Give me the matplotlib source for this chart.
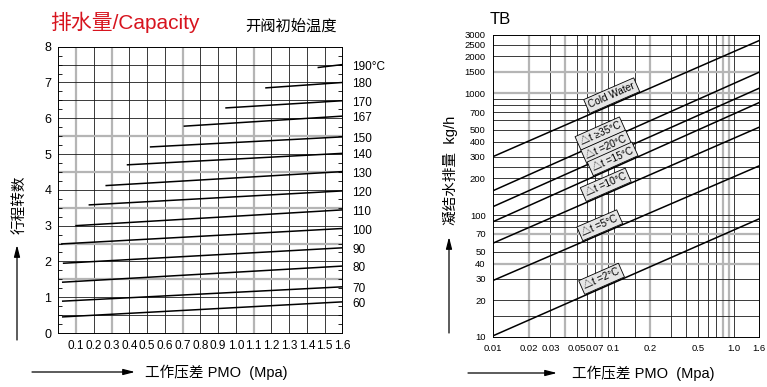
import math
import matplotlib
matplotlib.use('Agg')
import matplotlib.pyplot as plt
import numpy as np

plt.rcParams['font.family'] = ['Liberation Sans', 'Noto Sans CJK SC', 'DejaVu Sans']

W, H = 767, 387

# ---- left chart: stroke turns vs working pressure, per opening temperature ----
pressure_ticks = [0.1, 0.2, 0.3, 0.4, 0.5, 0.6, 0.7, 0.8, 0.9, 1.0,
                  1.1, 1.2, 1.3, 1.4, 1.5, 1.6]
pressure_labels = ['0.1', '0.2', '0.3', '0.4', '0.5', '0.6', '0.7', '0.8', '0.9', '1.0',
                   '1.1', '1.2', '1.3', '1.4', '1.5', '1.6']
turn_ticks = [0, 1, 2, 3, 4, 5, 6, 7, 8]
temp_labels = ['60', '70', '80', '90', '100', '110', '120', '130', '140', '150',
               '167', '170', '180', '190°C']
start_pressure = [0.025, 0.025, 0.025, 0.03, 0.02, 0.1, 0.175, 0.27, 0.39, 0.52,
                  0.71, 0.945, 1.17, 1.465]
start_turns = [0.45, 0.89, 1.42, 1.95, 2.49, 3.0, 3.58, 4.12, 4.70, 5.2,
               5.78, 6.29, 6.85, 7.42]
end_turns = [0.87, 1.29, 1.87, 2.38, 2.92, 3.44, 3.97, 4.51, 5.02, 5.48,
             6.06, 6.49, 7.0, 7.5]
max_pressure = 1.6

# ---- right chart: condensate capacity (log-log) ----
pmo_ends = [0.01, 1.6]
curve_labels = ['Cold Water', '△t ≥35°C', '△t =20°C', '△t =15°C',
                '△t =10°C', '△t =5°C', '△t =2°C']
cap_low = [301, 158, 117, 88, 58.7, 29, 10.2]
cap_high = [2697, 1484, 1096, 836, 525, 253, 93]
label_pmo = [0.103, 0.083, 0.093, 0.105, 0.092, 0.082, 0.085]
pmo_ticks = [0.01, 0.02, 0.03, 0.05, 0.07, 0.1, 0.2, 0.5, 1.0, 1.6]
pmo_tick_labels = ['0.01', '0.02', '0.03', '0.05', '0.07', '0.1', '0.2', '0.5', '1.0', '1.6']
cap_ticks = [10, 20, 30, 40, 50, 70, 100, 200, 300, 400, 500, 700,
             1000, 1500, 2000, 2500, 3000]
vgrid_black = [0.03, 0.05, 0.06, 0.07, 0.09, 0.1, 0.15, 0.3, 0.4, 0.5, 0.6, 0.7, 1.0]
vgrid_gray = [0.02, 0.04, 0.08, 0.2, 0.8, 0.9]
hgrid_black = [15, 20, 30, 50, 60, 80, 90, 100, 150, 200, 250, 300, 400, 500,
               600, 700, 800, 900, 2000, 2500]
hgrid_gray = [40, 70, 1000, 1500]

GRAY = '#b5b5b5'
INK = '#1a1a1a'

fig = plt.figure(figsize=(W / 100, H / 100), dpi=100)
ax1 = fig.add_axes([58.3 / W, 1 - 333 / H, 284 / W, 286.3 / H])
ax2 = fig.add_axes([492.7 / W, 1 - 337 / H, 266.3 / W, 302 / H])

# left chart
ax1.set_xlim(0, max_pressure)
ax1.set_ylim(0, 8)
for p in pressure_ticks[:-1]:
    gray = round(p, 1) in (0.1, 0.3, 0.7, 1.1)
    ax1.axvline(p, color=GRAY if gray else INK, lw=1.6 if gray else 0.6, zorder=1)
for t in np.arange(0.5, 8, 0.5):
    gray = t in (1.5, 2.5, 3.5, 4.5, 5.5)
    ax1.axhline(t, color=GRAY if gray else INK, lw=1.6 if gray else 0.6, zorder=1)

for lbl, p0, t0, t1 in zip(temp_labels, start_pressure, start_turns, end_turns):
    ax1.plot([p0, max_pressure], [t0, t1], color='black', lw=1.1, zorder=3)
    ax1.annotate(lbl, xy=(max_pressure, t1), xytext=(10, -2), textcoords='offset pixels',
                 ha='left', va='center', fontsize=8.5, annotation_clip=False)

ax1.set_xticks(pressure_ticks)
ax1.set_xticklabels(pressure_labels, fontsize=8.5)
ax1.set_yticks(turn_ticks)
ax1.set_yticklabels([str(t) for t in turn_ticks], fontsize=9)
ax1.set_yticks(np.arange(0.25, 8, 0.25), minor=True)
ax1.tick_params(which='major', length=0, pad=5)
ax1.tick_params(which='minor', axis='y', direction='in', length=3, width=0.6,
                left=True, right=True)
for s in ax1.spines.values():
    s.set_linewidth(0.7)

# right chart
ax2.set_xscale('log')
ax2.set_yscale('log')
ax2.set_xlim(pmo_ends[0], pmo_ends[1])
ax2.set_ylim(10, 3000)
for v in vgrid_black:
    ax2.axvline(v, color=INK, lw=0.6, zorder=1)
for v in vgrid_gray:
    ax2.axvline(v, color=GRAY, lw=1.6, zorder=1)
for v in hgrid_black:
    ax2.axhline(v, color=INK, lw=0.6, zorder=1)
for v in hgrid_gray:
    ax2.axhline(v, color=GRAY, lw=1.6, zorder=1)

for lbl, a, b, xl in zip(curve_labels, cap_low, cap_high, label_pmo):
    ax2.plot(pmo_ends, [a, b], color='black', lw=1.1, zorder=3)
    slope = math.log(b / a) / math.log(pmo_ends[1] / pmo_ends[0])
    yl = a * (xl / pmo_ends[0]) ** slope
    p1 = ax2.transData.transform((pmo_ends[0], a))
    p2 = ax2.transData.transform((pmo_ends[1], b))
    ang = math.atan2(p2[1] - p1[1], p2[0] - p1[0])
    d = 8.5
    ax2.annotate(lbl, xy=(xl, yl), xytext=(-d * math.sin(ang), d * math.cos(ang)),
                 textcoords='offset pixels', rotation=math.degrees(ang),
                 rotation_mode='anchor', ha='center', va='center', fontsize=7.2,
                 zorder=5,
                 bbox=dict(boxstyle='square,pad=0.25', fc='#e6e6e6', ec='black', lw=0.6))

ax2.xaxis.set_minor_locator(plt.NullLocator())
ax2.yaxis.set_minor_locator(plt.NullLocator())
ax2.set_xticks(pmo_ticks)
ax2.set_xticklabels(pmo_tick_labels, fontsize=6.8)
ax2.set_yticks(cap_ticks)
ax2.set_yticklabels([str(c) for c in cap_ticks], fontsize=6.8)
ax2.tick_params(which='major', length=0, pad=5)
for s in ax2.spines.values():
    s.set_linewidth(0.7)

# titles and axis captions
fig.text(50 / W, 1 - 22 / H, '排水量/Capacity', color='#d7141e', fontsize=15,
         ha='left', va='center')
fig.text(245 / W, 1 - 27 / H, '开阀初始温度', fontsize=11, ha='left', va='center')
fig.text(490 / W, 1 - 20 / H, 'TB', fontsize=12, ha='left', va='center')

fig.text(145 / W, 1 - 372 / H, '工作压差 PMO  (Mpa)', fontsize=10.5, ha='left', va='center')
fig.text(572 / W, 1 - 373 / H, '工作压差 PMO  (Mpa)', fontsize=10.5, ha='left', va='center')
fig.text(20 / W, 1 - 205 / H, '行程转数', fontsize=10.5, rotation=90,
         ha='center', va='center')
fig.text(450 / W, 1 - 170 / H, '凝结水排量  kg/h', fontsize=10.5, rotation=90,
         ha='center', va='center')

arrow = dict(arrowstyle='-|>,head_length=0.7,head_width=0.18', color='black', lw=0.9,
             mutation_scale=10, shrinkA=0, shrinkB=0)
ax1.annotate('', xy=(135, H - 372), xycoords='figure pixels', xytext=(32, H - 372),
             textcoords='figure pixels', arrowprops=arrow, annotation_clip=False)
ax1.annotate('', xy=(17, H - 245), xycoords='figure pixels', xytext=(17, H - 340),
             textcoords='figure pixels', arrowprops=arrow, annotation_clip=False)
ax2.annotate('', xy=(557, H - 373), xycoords='figure pixels', xytext=(468, H - 373),
             textcoords='figure pixels', arrowprops=arrow, annotation_clip=False)
ax2.annotate('', xy=(449, H - 237), xycoords='figure pixels', xytext=(449, H - 333),
             textcoords='figure pixels', arrowprops=arrow, annotation_clip=False)

fig.savefig('out.png', dpi=100)
